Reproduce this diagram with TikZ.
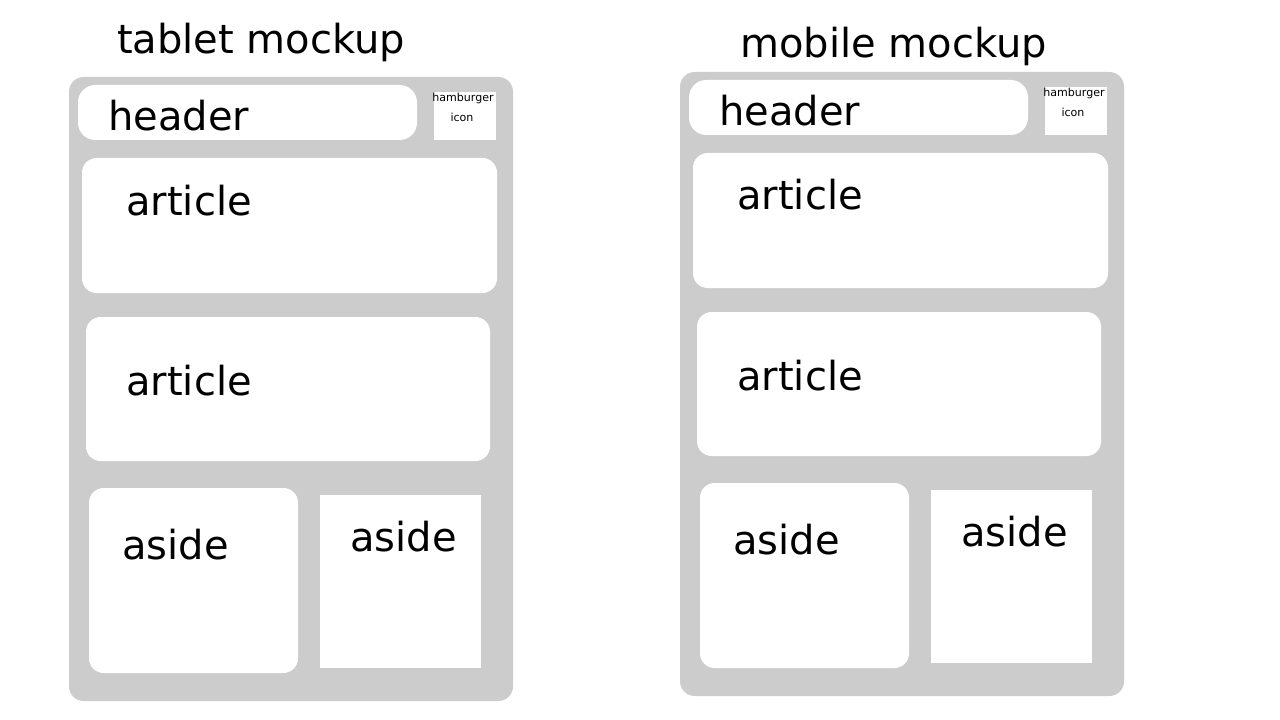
\documentclass[tikz,border=0pt]{standalone}
\usepackage{fontspec}
\setmainfont{DejaVu Sans}
\definecolor{frame}{HTML}{CCCCCC}
\tikzset{
  big/.style={inner sep=0pt, font=\fontsize{30pt}{36pt}\selectfont, text=black},
  small/.style={inner sep=0pt, font=\fontsize{8.3pt}{9pt}\selectfont, text=black},
  pane/.style={fill=white, rounded corners=11pt},
  flat/.style={fill=white},
  mockup/.pic={
    \fill[frame, rounded corners=11pt] (69,77) rectangle (513,701);
    \path[pane, rounded corners=13pt] (78,85) rectangle (417,140);
    \path[flat] (434,92) rectangle (496,140);
    \path[pane] (82,158) rectangle (497,293);
    \path[pane] (86,317) rectangle (490,461);
    \path[pane] (89,488) rectangle (298,673);
    \path[flat] (320,495) rectangle (481,668);
    \node[big, anchor=base west] (-header) at (108,131) {header};
    \node[small, anchor=base] (-ham) at (463,102) {hamburger};
    \node[small, anchor=base] (-icon) at (462,122) {icon};
    \node[big, anchor=base west] (-art1) at (126,215) {article};
    \node[big, anchor=base west] (-art2) at (126,395) {article};
    \node[big, anchor=base west] (-aside1) at (122,559) {aside};
    \node[big, anchor=base west] (-aside2) at (350,551) {aside};
  }
}
\begin{document}
\begin{tikzpicture}[x=0.75pt, y=-0.75pt]
\useasboundingbox (0,0) rectangle (1280,720);
\fill[white] (0,0) rectangle (1280,720);
\node[big, anchor=base west] (tabtitle) at (117,54) {tablet mockup};
\node[big, anchor=base west] (mobtitle) at (740,58) {mobile mockup};
\pic (tab) at (0,0) {mockup};
\pic (mob) at (611,-5) {mockup};
\end{tikzpicture}
\end{document}
